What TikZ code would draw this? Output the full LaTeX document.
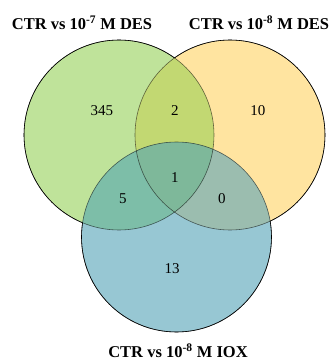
\documentclass[tikz,border=0pt]{standalone}
\usepackage{fontspec}
\setmainfont{Liberation Serif}
\definecolor{cgreen}{HTML}{BFE39A}
\definecolor{corange}{HTML}{FFE4A0}
\definecolor{cblue}{HTML}{97C7D3}
\definecolor{cgo}{HTML}{C2D872}
\definecolor{cgb}{HTML}{7DBEA8}
\definecolor{cob}{HTML}{9BBDAF}
\definecolor{cgob}{HTML}{7EB89A}
\begin{document}
\begin{tikzpicture}[x=1pt,y=1pt,
  title/.style={font=\fontsize{16.5}{18}\selectfont\bfseries, inner sep=0pt},
  count/.style={font=\fontsize{15}{17}\selectfont, inner sep=0pt},
  rim/.style={draw=black, line width=0.6pt}]
\useasboundingbox (0,0) rectangle (333,360);
\coordinate (G) at (119,225);
\coordinate (O) at (230,225);
\coordinate (B) at (176.5,123);
\def\R{95}
% base fills
\fill[cgreen] (G) circle (\R);
\fill[corange] (O) circle (\R);
\fill[cblue] (B) circle (\R);
% pairwise
\begin{scope}\clip (G) circle (\R); \fill[cgo] (O) circle (\R); \end{scope}
\begin{scope}\clip (G) circle (\R); \fill[cgb] (B) circle (\R); \end{scope}
\begin{scope}\clip (O) circle (\R); \fill[cob] (B) circle (\R); \end{scope}
\begin{scope}\clip (G) circle (\R); \clip (O) circle (\R); \fill[cgob] (B) circle (\R); \end{scope}
% outlines
\draw[rim, draw opacity=0.55] (G) circle (\R);
\draw[rim, draw opacity=0.55] (O) circle (\R);
\draw[rim, draw opacity=0.55] (B) circle (\R);
% outer boundary darker
\begin{scope}[even odd rule]
  \clip (0,0) rectangle (333,360) (O) circle (\R);
  \begin{scope}[even odd rule]
    \clip (0,0) rectangle (333,360) (B) circle (\R);
    \draw[rim] (G) circle (\R);
  \end{scope}
\end{scope}
\begin{scope}[even odd rule]
  \clip (0,0) rectangle (333,360) (G) circle (\R);
  \begin{scope}[even odd rule]
    \clip (0,0) rectangle (333,360) (B) circle (\R);
    \draw[rim] (O) circle (\R);
  \end{scope}
\end{scope}
\begin{scope}[even odd rule]
  \clip (0,0) rectangle (333,360) (G) circle (\R);
  \begin{scope}[even odd rule]
    \clip (0,0) rectangle (333,360) (O) circle (\R);
    \draw[rim] (B) circle (\R);
  \end{scope}
\end{scope}
% titles
\node[title] (t1) at (82,337) {CTR vs 10\textsuperscript{-7} M DES};
\node[title] (t2) at (259,337) {CTR vs 10\textsuperscript{-8} M DES};
\node[title] (t3) at (178,9.5) {CTR vs 10\textsuperscript{-8} M IOX};
% counts
\node[count] (n345) at (102,249) {345};
\node[count] (n2) at (175,249) {2};
\node[count] (n10) at (258,249) {10};
\node[count] (n1) at (175,182) {1};
\node[count] (n5) at (123,161) {5};
\node[count] (n0) at (222,161) {0};
\node[count] (n13) at (172,91) {13};
\end{tikzpicture}
\end{document}
